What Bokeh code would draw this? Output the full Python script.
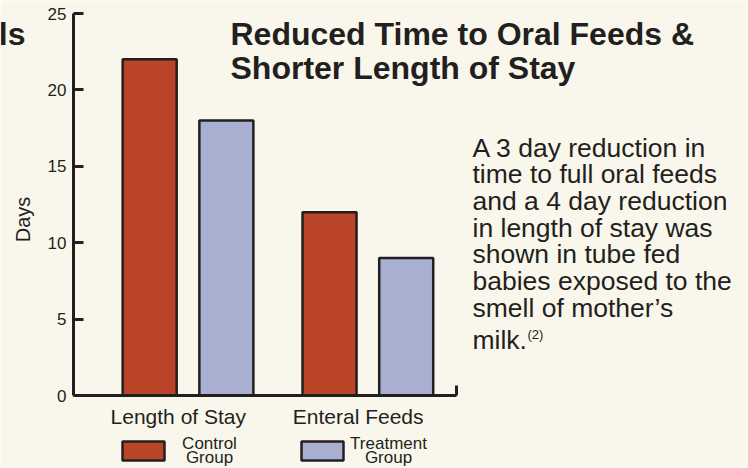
import math
from bokeh.plotting import figure
from bokeh.models import Range1d, FixedTicker, LinearAxis, Label, BoxAnnotation
from bokeh.embed import file_html
from bokeh.resources import INLINE

# ---- data ----
categories = ["Length of Stay", "Enteral Feeds"]
series_names = [["Control", "Group"], ["Treatment", "Group"]]
control = [22, 12]
treatment = [18, 9]
y_ticks = [0, 5, 10, 15, 20, 25]
y_title = "Days"
title_lines = ["Reduced Time to Oral Feeds &", "Shorter Length of Stay"]
body_lines = ["A 3 day reduction in", "time to full oral feeds", "and a 4 day reduction",
              "in length of stay was", "shown in tube fed", "babies exposed to the",
              "smell of mother\u2019s"]
body_last = "milk."
body_ref = "(2)"

# ---- style ----
BG = "#f9f7eb"
INK = "#231f20"
RED = "#b94427"
BLUE = "#a9afd0"
FONT = "Liberation Sans"
W, H = 748, 468

group_centers = [2.12, 5.45]
offset = 0.71
bar_w = 1.0
x_end = 7.09          # right end of the x axis line
Y_MAX = 25

# frame covers the whole canvas; axes are pinned at fixed locations
px_x = 54.0                      # pixels per x unit
px_y = (395 - 13) / Y_MAX        # pixels per y unit
x_range = Range1d(-73 / px_x, x_end + (W - 456) / px_x)
y_range = Range1d(-(H - 395) / px_y, Y_MAX + 13 / px_y)

p = figure(width=W, height=H, output_backend="svg", toolbar_location=None,
           x_range=x_range, y_range=y_range,
           min_border_left=0, min_border_right=0, min_border_top=0, min_border_bottom=0,
           background_fill_color=BG, border_fill_color=BG)
p.outline_line_color = None
p.xgrid.visible = False
p.ygrid.visible = False

xs_c = [c - offset for c in group_centers]
xs_t = [c + offset for c in group_centers]
p.vbar(x=xs_c, top=control, bottom=0, width=bar_w, fill_color=RED, line_color=INK, line_width=2.5)
p.vbar(x=xs_t, top=treatment, bottom=0, width=bar_w, fill_color=BLUE, line_color=INK, line_width=2.5)

# y axis
ya = p.yaxis[0]
ya.fixed_location = 0
ya.bounds = (0, Y_MAX)
ya.ticker = FixedTicker(ticks=y_ticks)
ya.major_tick_in = 10
ya.major_tick_out = 0
ya.minor_tick_line_color = None
ya.axis_line_width = 3
ya.axis_line_color = INK
ya.major_tick_line_width = 3
ya.major_tick_line_color = INK
ya.major_label_text_font = FONT
ya.major_label_text_font_size = "17px"
ya.major_label_text_color = INK
ya.major_label_standoff = 7

# x axis
label_pos = [c - 0.18 for c in group_centers]
xa = p.xaxis[0]
xa.fixed_location = 0
xa.bounds = (0, x_end)
xa.ticker = FixedTicker(ticks=label_pos)
xa.major_label_overrides = {pos: name for pos, name in zip(label_pos, categories)}
xa.major_tick_line_color = None
xa.minor_tick_line_color = None
xa.axis_line_width = 3
xa.axis_line_color = INK
xa.major_label_text_font = FONT
xa.major_label_text_font_size = "21px"
xa.major_label_text_color = INK
xa.major_label_standoff = 3

# small upturn at right end of x axis
ra = LinearAxis(fixed_location=x_end, bounds=(0, 0.65), ticker=FixedTicker(ticks=[]),
                axis_line_width=3, axis_line_color=INK, major_tick_line_color=None,
                minor_tick_line_color=None, major_label_text_font_size="0px")
p.add_layout(ra, "right")


def text(x, base, s, fs, bold=False, align="left"):
    # base = desired baseline position (canvas px from top)
    p.add_layout(Label(x=x, y=base - 0.3 * fs, x_units="canvas", y_units="canvas", text=s,
                       text_font=FONT, text_font_style="bold" if bold else "normal",
                       text_font_size=f"{fs}px", text_color=INK, text_align=align,
                       text_baseline="alphabetic"))


# y axis title (rotated)
p.add_layout(Label(x=22, y=219, x_units="canvas", y_units="canvas", text=y_title,
                   text_font=FONT, text_font_size="20px", text_color=INK, text_align="center",
                   text_baseline="middle", angle=math.pi / 2))

# title
for i, line in enumerate(title_lines):
    text(230, 43 + 34 * i, line, 32, bold=True)
# clipped neighbouring title fragment
text(25, 43, "ls", 32, bold=True, align="right")

# body text
for i, line in enumerate(body_lines):
    text(472, 155 + 26.7 * i, line, 26.5)
text(472, 347, body_last, 26.5)
text(527, 338, body_ref, 13)

# legend
colors = [RED, BLUE]
sw_left = [122, 301]
txt_center = [209, 388]
for col, left, tc, names in zip(colors, sw_left, txt_center, series_names):
    p.add_layout(BoxAnnotation(left=left, right=left + 42, top=441, bottom=460,
                               left_units="canvas", right_units="canvas",
                               bottom_units="canvas", top_units="canvas",
                               fill_color=col, fill_alpha=1.0, line_color=INK,
                               line_alpha=1.0, line_width=2.5))
    for j, nm in enumerate(names):
        text(tc, 448 + 14 * j, nm, 17, align="center")

open("out.html", "w").write(file_html(p, INLINE))
